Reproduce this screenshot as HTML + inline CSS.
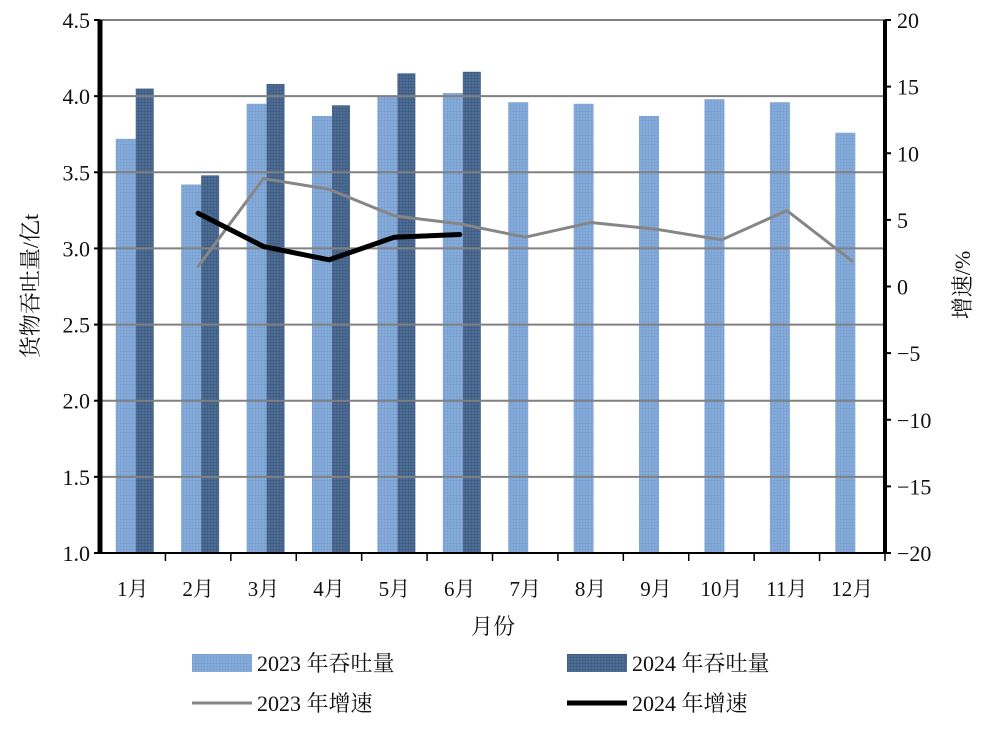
<!DOCTYPE html>
<html><head><meta charset="utf-8"><style>
body{margin:0;background:#fff;}
svg text{font-family:"Liberation Serif","Noto Serif CJK SC",serif;fill:#111;}
</style></head><body>
<svg id="c" width="981" height="733"></svg>
<script>
const categories=["1月","2月","3月","4月","5月","6月","7月","8月","9月","10月","11月","12月"];
const vol2023=[3.72,3.42,3.95,3.87,4.00,4.02,3.96,3.95,3.87,3.98,3.96,3.76];
const vol2024=[4.05,3.48,4.08,3.94,4.15,4.16];
const growth2023=[null,1.5,8.1,7.3,5.3,4.7,3.7,4.8,4.3,3.5,5.7,1.9];
const growth2024=[null,5.5,3.0,2.0,3.7,3.9];
const leftTicks=["1.0","1.5","2.0","2.5","3.0","3.5","4.0","4.5"];
const rightTicks=["−20","−15","−10","−5","0","5","10","15","20"];
const NS="http://www.w3.org/2000/svg",svg=document.getElementById('c');
const L=100,R=885,T=20,B=553,cw=(R-L)/12;
const yL=v=>B-(v-1)/3.5*(B-T);
const yR=v=>B-(v+20)/40*(B-T);
const xC=i=>L+cw*(i+0.5);
function mk(t,a,p){const e=document.createElementNS(NS,t);for(const k in a)e.setAttribute(k,a[k]);(p||svg).appendChild(e);return e;}
const defs=mk('defs',{});
const p1=mk('pattern',{id:'p1',width:3,height:3,patternUnits:'userSpaceOnUse'},defs);
mk('rect',{width:3,height:3,fill:'#86acdc'},p1);mk('path',{d:'M0 0H3M0 0V3',stroke:'#6f95c6','stroke-width':0.8},p1);
const p2=mk('pattern',{id:'p2',width:3,height:3,patternUnits:'userSpaceOnUse'},defs);
mk('rect',{width:3,height:3,fill:'#4e6d96'},p2);mk('path',{d:'M0 0H3M0 0V3',stroke:'#34506f','stroke-width':0.8},p2);
const bars=mk('g',{});
vol2023.forEach((v,i)=>{const r=mk('rect',{x:xC(i)-17,y:yL(v),width:20,height:B-yL(v),fill:'url(#p1)'},bars);
});
vol2024.forEach((v,i)=>{const r=mk('rect',{x:xC(i)+3,y:yL(v),width:18,height:B-yL(v),fill:'url(#p2)'},bars);
});
leftTicks.forEach((t,i)=>{const v=parseFloat(t),y=yL(v);
if(i>0&&i<leftTicks.length-1){const g=mk('line',{x1:L,x2:R,y1:y,y2:y,stroke:'#808080','stroke-width':2});}
mk('line',{x1:L-6,x2:L,y1:y,y2:y,stroke:'#000','stroke-width':2});
const tx=mk('text',{x:L-10,y:y+8,'text-anchor':'end','font-size':22});tx.textContent=t;});
mk('line',{x1:L,x2:R,y1:T,y2:T,stroke:'#808080','stroke-width':2});
rightTicks.forEach((t,i)=>{const y=yR(-20+5*i);mk('line',{x1:R,x2:R+6,y1:y,y2:y,stroke:'#000','stroke-width':2});
const tx=mk('text',{x:R+12,y:y+8,'font-size':22});tx.textContent=t;});
function line(d,col,w,name){let pts=[];d.forEach((v,i)=>{if(v!==null)pts.push(xC(i)+','+yR(v));});
const p=mk('polyline',{points:pts.join(' '),fill:'none',stroke:col,'stroke-width':w,'stroke-linejoin':'round','stroke-linecap':'round'});
}
line(growth2023,'#868686',3,'line-2023-growth');line(growth2024,'#000',5,'line-2024-growth');
mk('line',{x1:L,x2:L,y1:T,y2:B,stroke:'#000','stroke-width':5});
mk('line',{x1:R,x2:R,y1:T,y2:B,stroke:'#000','stroke-width':4});
mk('line',{x1:L,x2:R,y1:B,y2:B,stroke:'#000','stroke-width':2});
categories.forEach((c,i)=>{const x=L+cw*(i+1);mk('line',{x1:x,x2:x,y1:B,y2:B+8,stroke:'#000','stroke-width':1.5});
const tx=mk('text',{x:xC(i),y:B+43,'text-anchor':'middle','font-size':21});tx.textContent=c;});
let t=mk('text',{x:493,y:634,'text-anchor':'middle','font-size':22});t.textContent='月份';
t=mk('text',{x:0,y:0,'text-anchor':'middle','font-size':22,transform:'translate(38,286) rotate(-90)'});t.textContent='货物吞吐量/亿t';
t=mk('text',{x:0,y:0,'text-anchor':'middle','font-size':22,transform:'translate(970,285) rotate(-90)'});t.textContent='增速/%';
const lg=[['rect','url(#p1)',192,663,'2023 年吞吐量'],['rect','url(#p2)',567,663,'2024 年吞吐量'],['line','#868686',192,703,'2023 年增速'],['line','#000',567,703,'2024 年增速']];
lg.forEach(l=>{const g=mk('g',{});
if(l[0]==='rect')mk('rect',{x:l[2],y:l[3]-9,width:60,height:18,fill:l[1]},g);
else mk('line',{x1:l[2],x2:l[2]+60,y1:l[3],y2:l[3],stroke:l[1],'stroke-width':l[1]==='#000'?5:3},g);
const tx=mk('text',{x:l[2]+65,y:l[3]+8,'font-size':22},g);tx.textContent=l[4];});
</script></body></html>
